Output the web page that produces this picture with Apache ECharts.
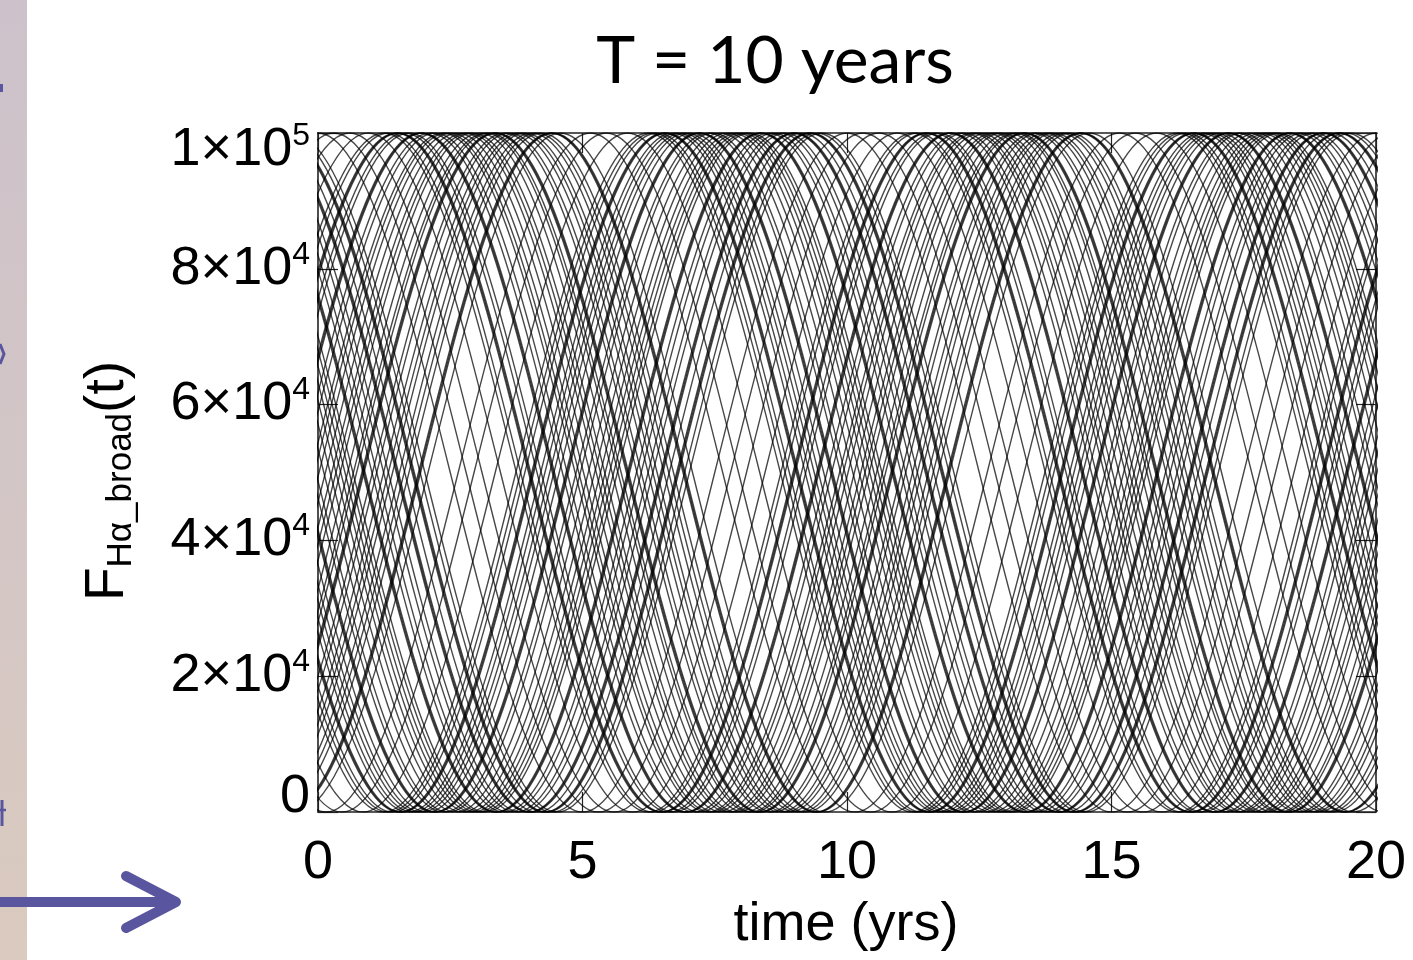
<!DOCTYPE html>
<html>
<head>
<meta charset="utf-8">
<script src="https://cdn.jsdelivr.net/npm/echarts@6/dist/echarts.min.js"></script>
<style>
html,body{margin:0;padding:0;background:#ffffff;}
#main{width:1413px;height:960px;}
</style>
</head>
<body>
<div id="main"></div>
<script>
// ---- data ----
const PERIOD = 10;            // years ("T = 10 years")
const F_MIN = 0;              // trough flux
const F_MAX = 100000;         // peak flux
// time (yrs, 0-10) of the peak of each light curve (dark bundles = several near-equal phases)
const peakTimes = [
  0.0, 0.3, 0.6, 0.95, 5.15, 5.45, 5.85,
  1.25, 1.33, 1.48, 1.5, 1.52, 1.64, 1.72, 1.93, 1.95, 1.97, 2.12, 2.21, 2.36, 2.43,
  2.52, 2.64, 2.76, 2.84, 2.92, 3.06, 3.17, 3.23, 3.33, 3.35, 3.37, 3.53, 3.61, 3.74, 3.83,
  3.91, 4.04, 4.13, 4.22, 4.4, 4.42, 4.44, 4.58,
  6.24, 6.33, 6.41, 6.54, 6.56, 6.58, 6.71, 6.79, 6.88, 6.96, 7.06, 7.19, 7.21, 7.23, 7.38,
  7.46, 7.61, 7.73, 7.84, 7.93, 8.01, 8.09, 8.16, 8.35, 8.37, 8.39, 8.52, 8.61, 8.74, 8.83,
  8.98, 9.0, 9.02, 9.14, 9.28, 9.3, 9.32, 9.43, 9.52
];
const xTicks = [0, 5, 10, 15, 20];
const yTicks = [0, 20000, 40000, 60000, 80000, 100000];
const yTickMantissa = ['0', '2×10', '4×10', '6×10', '8×10', '1×10'];
const yTickExponent = ['', '4', '4', '4', '4', '5'];
const titleText = 'T = 10 years';
const xName = 'time (yrs)';

// ---- build series: peaks and troughs of each curve, drawn smooth by ECharts ----
function curvePoints(p) {
  const pts = [];
  for (let k = -3; k <= 5; k++) {
    pts.push([p + k * PERIOD / 2, (k % 2 === 0) ? F_MAX : F_MIN]);
  }
  return pts;
}
const series = peakTimes.map(function (p) {
  return {
    type: 'line',
    data: curvePoints(p),
    smooth: 0.36,
    symbol: 'none',
    clip: true,
    silent: true,
    animation: false,
    lineStyle: { color: '#000', width: 1.4, opacity: 0.72 }
  };
});

const FONT = "'Liberation Sans', Arial, Helvetica, sans-serif";
const chart = echarts.init(document.getElementById('main'), null, { renderer: 'canvas' });

function yLabel(v) {
  const i = yTicks.indexOf(v);
  if (i < 0) return '';
  let s = '{m|' + yTickMantissa[i] + '}';
  if (yTickExponent[i]) s += '{e|' + yTickExponent[i] + '}';
  if (v === F_MAX) s = '{gt| }\n' + s;      // keep top label inside the frame
  if (v === F_MIN) s = s + '\n{gb| }';      // keep bottom label inside the frame
  return s;
}

const axisLineStyle = { color: '#222', width: 1.6 };
const tickStyle = { color: '#222', width: 1.2 };

const option = {
  backgroundColor: '#ffffff',
  animation: false,
  grid: { left: 318, right: 37, top: 133, bottom: 148, containLabel: false },
  xAxis: [{
    type: 'value', min: 0, max: 20, interval: 5, position: 'bottom',
    axisLine: { show: true, lineStyle: axisLineStyle },
    axisTick: { show: true, inside: true, length: 20, lineStyle: tickStyle },
    splitLine: { show: false },
    axisLabel: { show: true, margin: 24, fontSize: 54, fontFamily: FONT, color: '#000',
      formatter: function (v) { return xTicks.indexOf(v) >= 0 ? String(v) : ''; } }
  }, {
    type: 'value', min: 0, max: 20, interval: 5, position: 'top',
    axisLine: { show: true, onZero: false, lineStyle: axisLineStyle },
    axisTick: { show: true, inside: true, length: 20, lineStyle: tickStyle },
    splitLine: { show: false }, axisLabel: { show: false }
  }],
  yAxis: [{
    type: 'value', min: 0, max: 100000, interval: 20000, position: 'left',
    axisLine: { show: true, lineStyle: axisLineStyle },
    axisTick: { show: true, inside: true, length: 20, lineStyle: tickStyle },
    splitLine: { show: false },
    axisLabel: {
      show: true, margin: 8, formatter: yLabel,
      rich: {
        m: { fontSize: 54, fontFamily: FONT, color: '#000', lineHeight: 60 },
        e: { fontSize: 32, fontFamily: FONT, color: '#000', lineHeight: 32, verticalAlign: 'top' },
        gt: { fontSize: 10, lineHeight: 34 },
        gb: { fontSize: 10, lineHeight: 30 }
      }
    }
  }, {
    type: 'value', min: 0, max: 100000, interval: 20000, position: 'right',
    axisLine: { show: true, onZero: false, lineStyle: axisLineStyle },
    axisTick: { show: true, inside: true, length: 20, lineStyle: tickStyle },
    splitLine: { show: false }, axisLabel: { show: false }
  }],
  graphic: [
    { type: 'rect', left: 0, top: 0, z: -10, silent: true,
      shape: { width: 27, height: 960 },
      style: { fill: new echarts.graphic.LinearGradient(0, 0, 0, 1, [
        { offset: 0, color: '#cdc2cb' }, { offset: 0.5, color: '#d3c6c6' }, { offset: 1, color: '#dacabf' }]) } },
    { type: 'polyline', silent: true, z: 10,
      shape: { points: [[0, 902], [172, 902]] },
      style: { stroke: '#5a559f', lineWidth: 10, lineCap: 'round', fill: null } },
    { type: 'polyline', silent: true, z: 10,
      shape: { points: [[126, 876], [176, 902], [126, 928]] },
      style: { stroke: '#5a559f', lineWidth: 10, lineCap: 'round', lineJoin: 'round', fill: null } },
    { type: 'rect', silent: true, shape: { x: 0, y: 84, width: 3, height: 8 }, style: { fill: '#5a559f' } },
    { type: 'polyline', silent: true, shape: { points: [[0, 344], [4, 354], [0, 364]] },
      style: { stroke: '#5a559f', lineWidth: 3, fill: null } },
    { type: 'polyline', silent: true, shape: { points: [[2, 800], [2, 826]] },
      style: { stroke: '#5a559f', lineWidth: 3, fill: null } },
    { type: 'polyline', silent: true, shape: { points: [[0, 810], [6, 810]] },
      style: { stroke: '#5a559f', lineWidth: 2.5, fill: null } },
    { type: 'text', silent: true, x: 775, y: 62,
      style: { text: titleText, font: "66px Lato, 'Open Sans', sans-serif", fill: '#000',
        align: 'center', verticalAlign: 'middle', textAlign: 'center', textVerticalAlign: 'middle' } },
    { type: 'text', silent: true, x: 846, y: 925,
      style: { text: xName, font: '54px ' + FONT, fill: '#000',
        align: 'center', verticalAlign: 'middle', textAlign: 'center', textVerticalAlign: 'middle' } },
    { type: 'text', silent: true, x: 108, y: 481, rotation: Math.PI / 2,
      style: { text: '{f|F}{s|Hα_broad}{p|(t)}', fill: '#000',
        align: 'center', verticalAlign: 'middle', textAlign: 'center', textVerticalAlign: 'middle',
        rich: {
          f: { fontSize: 55, fontFamily: FONT, lineHeight: 62, fill: '#000', color: '#000' },
          s: { fontSize: 35, fontFamily: FONT, lineHeight: 36, verticalAlign: 'bottom', fill: '#000', color: '#000' },
          p: { fontSize: 55, fontFamily: FONT, lineHeight: 62, fill: '#000', color: '#000' }
        } } }
  ],
  series: series
};
chart.setOption(option);
</script>
</body>
</html>
